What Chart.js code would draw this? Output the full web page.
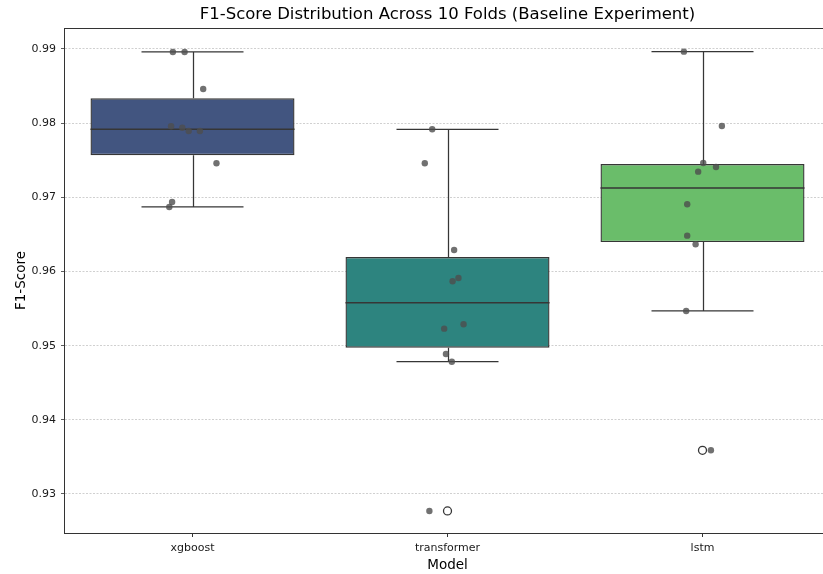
<!DOCTYPE html>
<html>
<head>
<meta charset="utf-8">
<script src="https://cdn.jsdelivr.net/npm/chart.js@4.4.1/dist/chart.umd.min.js"></script>
<style>
  html, body { margin: 0; padding: 0; background: #fff; overflow: hidden; }
  #wrap { width: 830px; height: 574px; }
</style>
</head>
<body>
<div id="wrap"><canvas id="chart" width="830" height="574"></canvas></div>
<script>
// F1 por fold
const models = ["xgboost", "transformer", "lstm"];
const xgboostScores = [0.9896, 0.9896, 0.98461, 0.97958, 0.97939, 0.97894, 0.97894, 0.97459, 0.96937, 0.9687];
const transformerScores = [0.97917, 0.97459, 0.9629, 0.95912, 0.95868, 0.95288, 0.95229, 0.94888, 0.94784, 0.92771];
const lstmScores = [0.98964, 0.97962, 0.97463, 0.97409, 0.97346, 0.96906, 0.96483, 0.96367, 0.95468, 0.93589];

// deslocamento horizontal dos pontos (stripplot), em unidades de categoria
const xgboostJitter = [-0.077, -0.031, 0.042, -0.084, -0.040, -0.015, 0.029, 0.094, -0.080, -0.091];
const transformerJitter = [-0.060, -0.089, 0.026, 0.043, 0.020, 0.063, -0.013, -0.006, 0.017, -0.071];
const lstmJitter = [-0.073, 0.076, 0.003, 0.053, -0.017, -0.060, -0.060, -0.027, -0.064, 0.033];

const yTicks = [0.93, 0.94, 0.95, 0.96, 0.97, 0.98, 0.99];
const yMin = 0.92474;
const yMax = 0.99283;
const xMin = -0.5;
const xMax = 2.5;

const boxColors = ["#425580", "#2d847f", "#6abd6a"];
const edgeColor = "#363636";

const allScores = [xgboostScores, transformerScores, lstmScores];
const allJitter = [xgboostJitter, transformerJitter, lstmJitter];

// quartis como no numpy (interpolação linear)
function percentile(sorted, p) {
  const pos = (sorted.length - 1) * p;
  const lo = Math.floor(pos);
  const hi = Math.ceil(pos);
  return sorted[lo] + (sorted[hi] - sorted[lo]) * (pos - lo);
}

function boxStats(values) {
  const s = values.slice().sort((a, b) => a - b);
  const q1 = percentile(s, 0.25);
  const med = percentile(s, 0.5);
  const q3 = percentile(s, 0.75);
  const iqr = q3 - q1;
  const inside = s.filter((v) => v >= q1 - 1.5 * iqr && v <= q3 + 1.5 * iqr);
  return {
    q1, med, q3,
    lo: inside[0],
    hi: inside[inside.length - 1],
    fliers: s.filter((v) => v < inside[0] || v > inside[inside.length - 1]),
  };
}

const stats = allScores.map(boxStats);

const boxData = stats.map((st, i) => ({ x: i, y: [st.q1, st.q3] }));
const stripData = [];
allScores.forEach((vals, i) => {
  vals.forEach((v, j) => stripData.push({ x: i + allJitter[i][j], y: v }));
});
const flierData = [];
stats.forEach((st, i) => st.fliers.forEach((v) => flierData.push({ x: i, y: v })));

// Bigodes, medianas e moldura do eixo
const boxPlotLines = {
  id: "boxPlotLines",
  beforeDatasetDraw(chart, args) {
    if (args.index !== 0) return;
    const { ctx, scales: { x, y } } = chart;
    ctx.save();
    ctx.strokeStyle = edgeColor;
    ctx.lineWidth = 1.25;
    stats.forEach((st, i) => {
      const cx = Math.round(x.getPixelForValue(i)) + 0.5;
      const x0 = x.getPixelForValue(i - 0.2);
      const x1 = x.getPixelForValue(i + 0.2);
      const hiY = y.getPixelForValue(st.hi);
      const loY = y.getPixelForValue(st.lo);
      ctx.beginPath();
      ctx.moveTo(cx, hiY);
      ctx.lineTo(cx, y.getPixelForValue(st.q3));
      ctx.moveTo(cx, y.getPixelForValue(st.q1));
      ctx.lineTo(cx, loY);
      ctx.moveTo(x0, hiY);
      ctx.lineTo(x1, hiY);
      ctx.moveTo(x0, loY);
      ctx.lineTo(x1, loY);
      ctx.stroke();
    });
    ctx.restore();
  },
  afterDatasetDraw(chart, args) {
    if (args.index !== 0) return;
    const { ctx, scales: { x, y } } = chart;
    ctx.save();
    ctx.strokeStyle = edgeColor;
    ctx.lineWidth = 1.5;
    stats.forEach((st, i) => {
      const my = y.getPixelForValue(st.med);
      ctx.beginPath();
      ctx.moveTo(x.getPixelForValue(i - 0.4), my);
      ctx.lineTo(x.getPixelForValue(i + 0.4), my);
      ctx.stroke();
    });
    ctx.restore();
  },
  afterDraw(chart) {
    // moldura do eixo (a borda direita fica fora da janela)
    const { ctx, chartArea: a } = chart;
    const l = Math.round(a.left) - 0.5;
    const t = Math.round(a.top) + 0.5;
    const b = Math.round(a.bottom) + 0.5;
    const r = Math.round(a.right) - 0.5;
    ctx.save();
    ctx.strokeStyle = "#333";
    ctx.lineWidth = 1;
    ctx.strokeRect(l, t, r - l, b - t);
    ctx.restore();
  },
};

// sem margens automáticas para os rótulos das pontas
function noEdgePadding(scale) {
  scale.paddingLeft = 0;
  scale.paddingRight = 0;
  scale.paddingTop = 0;
  scale.paddingBottom = 0;
}

Chart.defaults.font.family = "'DejaVu Sans', sans-serif";
Chart.defaults.color = "#1a1a1a";

new Chart(document.getElementById("chart"), {
  type: "bar",
  data: {
    datasets: [
      {
        type: "bar",
        data: boxData,
        backgroundColor: boxColors,
        borderColor: edgeColor,
        borderWidth: 1.4,
        borderSkipped: false,
        barPercentage: 0.8,
        categoryPercentage: 1,
        order: 2,
      },
      {
        type: "scatter",
        data: stripData,
        pointRadius: 3.2,
        pointBackgroundColor: "rgba(77, 77, 77, 0.8)",
        pointBorderWidth: 0,
        order: 0,
      },
      {
        type: "scatter",
        data: flierData,
        pointRadius: 4,
        pointBackgroundColor: "rgba(0, 0, 0, 0)",
        pointBorderColor: edgeColor,
        pointBorderWidth: 1.3,
        order: 1,
      },
    ],
  },
  options: {
    responsive: false,
    animation: false,
    events: [],
    layout: { padding: 0, autoPadding: false },
    plugins: {
      legend: { display: false },
      tooltip: { enabled: false },
      title: {
        display: true,
        text: "F1-Score Distribution Across 10 Folds (Baseline Experiment)",
        fullSize: false,
        color: "#000",
        font: { size: 16.5, weight: "normal", lineHeight: 1.2 },
        padding: { top: 5, bottom: 3.2 },
      },
    },
    scales: {
      x: {
        type: "linear",
        min: xMin,
        max: xMax,
        offset: false,
        afterBuildTicks: (scale) => {
          scale.ticks = models.map((_, i) => ({ value: i }));
        },
        afterFit: (scale) => {
          scale.height = 41;
          noEdgePadding(scale);
        },
        ticks: {
          autoSkip: false,
          maxRotation: 0,
          padding: 5,
          font: { size: 11 },
          callback: (v) => models[Math.round(v)],
        },
        grid: {
          offset: false,
          drawOnChartArea: false,
          drawTicks: true,
          tickLength: 4,
          tickColor: "#333",
        },
        border: { display: false },
        title: {
          display: true,
          text: "Model",
          color: "#000",
          font: { size: 13.5 },
          padding: { top: 0, bottom: 0 },
        },
      },
      y: {
        min: yMin,
        max: yMax,
        afterBuildTicks: (scale) => {
          scale.ticks = yTicks.map((v) => ({ value: v }));
        },
        afterFit: (scale) => {
          scale.width = 65;
          noEdgePadding(scale);
        },
        ticks: {
          padding: 5,
          font: { size: 11 },
          callback: (v) => v.toFixed(2),
        },
        grid: {
          color: "#c4c4c4",
          lineWidth: 0.8,
          drawTicks: true,
          tickLength: 4,
          tickColor: "#333",
          tickBorderDash: [],
        },
        border: { display: false, dash: [2, 1.5] },
        title: {
          display: true,
          text: "F1-Score",
          color: "#000",
          font: { size: 13.5 },
          padding: { top: 13, bottom: 0 },
        },
      },
    },
  },
  plugins: [boxPlotLines],
});
</script>
</body>
</html>
